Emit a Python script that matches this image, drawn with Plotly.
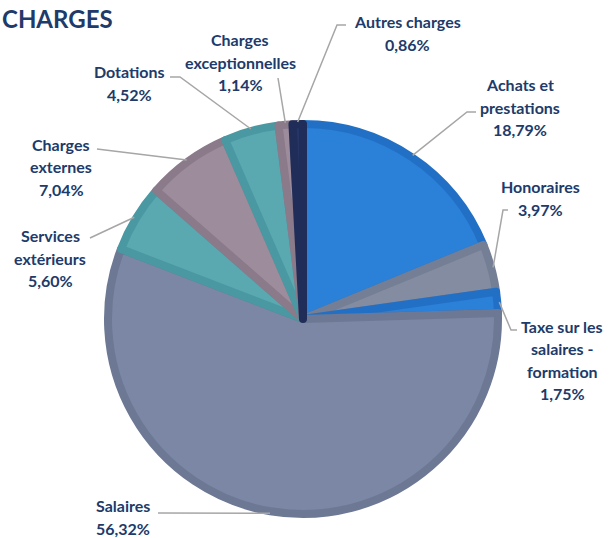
import math
import plotly.graph_objects as go

# ---- data ----
labels = ["Achats et prestations", "Honoraires", "Taxe sur les salaires - formation",
          "Salaires", "Services extérieurs", "Charges externes", "Dotations",
          "Charges exceptionnelles", "Autres charges"]
label_lines = [["Achats et", "prestations"], ["Honoraires"], ["Taxe sur les", "salaires -", "formation"],
               ["Salaires"], ["Services", "extérieurs"], ["Charges", "externes"], ["Dotations"],
               ["Charges", "exceptionnelles"], ["Autres charges"]]
values = [18.79, 3.97, 1.75, 56.32, 5.60, 7.04, 4.52, 1.14, 0.86]

# ---- styles ----
fills = ["#2b80d8", "#838ca1", "#2b80d8", "#7b87a4", "#5aa8b0", "#9d8c9c", "#5aa8b0", "#9d8c9c", "#243566"]
edges = ["#2270c6", "#747e94", "#2270c6", "#6c7894", "#4a98a2", "#8a7a8a", "#4a98a2", "#8a7a8a", "#1f2d58"]
TXT = "#203a6a"
FONT = "Lato"

W, H = 609, 538
CX, CY, R = 303, 319, 195

# label layout (pixels): text block center, leader polyline points after the edge point
text_pos = [(520, 107), (540, 198), (562, 360), (123, 517), (50, 258), (61, 167), (129, 83), (240, 62), (407, 33)]
leader_pts = [[(467, 112), (476, 112)], [(503, 210), (508, 210)], [(511, 330), (517, 330)],
              [(158, 513)], [(90, 238)], [(97, 149)], [(180, 77), (170, 77)], [(278, 78)],
              [(337, 25), (346, 25)]]

def px(x):
    return x / W

def py(y):
    return 1 - y / H

fig = go.Figure(go.Pie(
    labels=labels, values=values, sort=False, direction="clockwise", rotation=0,
    marker=dict(colors=fills, line=dict(color=edges, width=8)),
    textinfo="none", hoverinfo="label+percent", showlegend=False,
    domain=dict(x=[px(CX - R), px(CX + R)], y=[py(CY + R), py(CY - R)]),
))

annotations = [dict(text="<b>CHARGES</b>", x=px(0), y=py(19), xref="paper", yref="paper",
                    xanchor="left", yanchor="middle", showarrow=False,
                    font=dict(family=FONT, size=24, color=TXT))]
shapes = []
total = sum(values)
cum = 0.0
LH = 22.5
for i, v in enumerate(values):
    mid = (cum + v / 2) / total * 2 * math.pi
    cum += v
    ex = CX + (R + 2) * math.sin(mid)
    ey = CY - (R + 2) * math.cos(mid)
    pts = [(ex, ey)] + leader_pts[i]
    path = "M " + " L ".join(f"{px(a):.5f},{py(b):.5f}" for a, b in pts)
    shapes.append(dict(type="path", path=path, xref="paper", yref="paper",
                       line=dict(color="#a6a6a6", width=1.5)))
    lines = label_lines[i] + [f"{v:.2f}".replace(".", ",") + "%"]
    tx, ty = text_pos[i]
    n = len(lines)
    for k, ln in enumerate(lines):
        yy = ty + (k - (n - 1) / 2) * LH
        annotations.append(dict(text=f"<b>{ln}</b>", x=px(tx), y=py(yy), xref="paper", yref="paper",
                                xanchor="center", yanchor="middle", showarrow=False,
                                font=dict(family=FONT, size=16, color=TXT)))

fig.update_layout(width=W, height=H, margin=dict(l=0, r=0, t=0, b=0),
                  paper_bgcolor="white", plot_bgcolor="white",
                  annotations=annotations, shapes=shapes)
fig.write_html("out.html", config={"displayModeBar": False},
               post_script="document.body.style.margin='0';document.body.style.padding='0';"
                           "document.body.style.overflow='hidden';")
